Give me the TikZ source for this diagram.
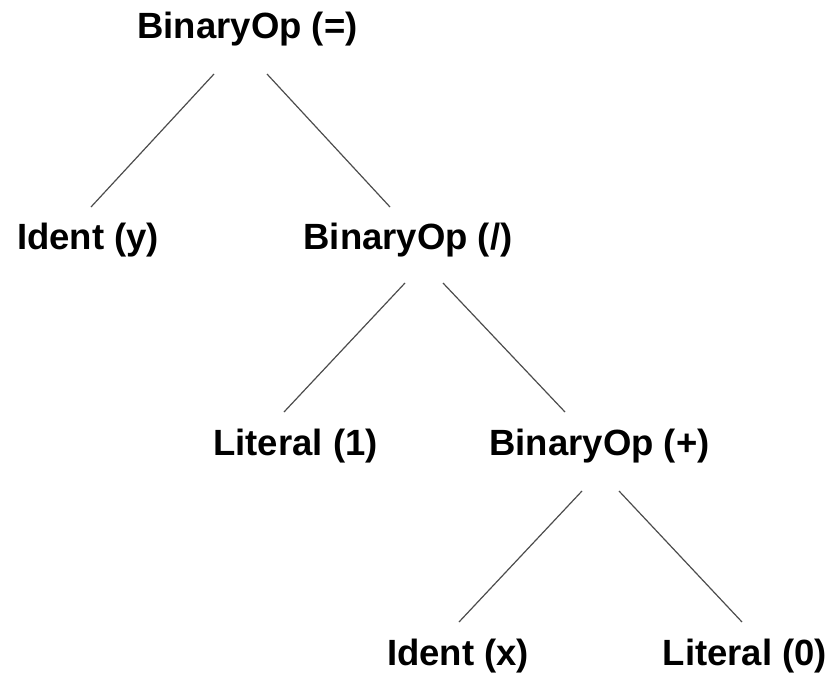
\documentclass[tikz,border=0pt]{standalone}
\usepackage{fontspec}
\setmainfont{Liberation Sans}
\begin{document}
\begin{tikzpicture}[x=1pt,y=-1pt,
  lbl/.style={font=\fontsize{36.5}{40}\selectfont\bfseries, anchor=base, inner sep=0pt},
  edge/.style={draw=black!70, line width=1.2pt}]
\useasboundingbox (0,0) rectangle (831,688);
\node[lbl] (root) at (247.5,38) {BinaryOp (=)};
\node[lbl] (iy) at (88,249) {Ident (y)};
\node[lbl] (div) at (408,249) {BinaryOp (/)};
\node[lbl] (l1) at (295.5,455) {Literal (1)};
\node[lbl] (plus) at (599.5,455) {BinaryOp (+)};
\node[lbl] (ix) at (458,665) {Ident (x)};
\node[lbl] (l0) at (745,665) {Literal (0)};
\coordinate (r1) at (214,74);  \coordinate (c1) at (91,207);
\coordinate (r2) at (267,74);  \coordinate (c2) at (390,207);
\coordinate (d1) at (405,283); \coordinate (e1) at (284,412);
\coordinate (d2) at (443,283); \coordinate (e2) at (565,412);
\coordinate (p1) at (582,491); \coordinate (q1) at (459,622);
\coordinate (p2) at (619,491); \coordinate (q2) at (742,622);
\draw[edge] (r1) -- (c1);
\draw[edge] (r2) -- (c2);
\draw[edge] (d1) -- (e1);
\draw[edge] (d2) -- (e2);
\draw[edge] (p1) -- (q1);
\draw[edge] (p2) -- (q2);
\end{tikzpicture}
\end{document}
